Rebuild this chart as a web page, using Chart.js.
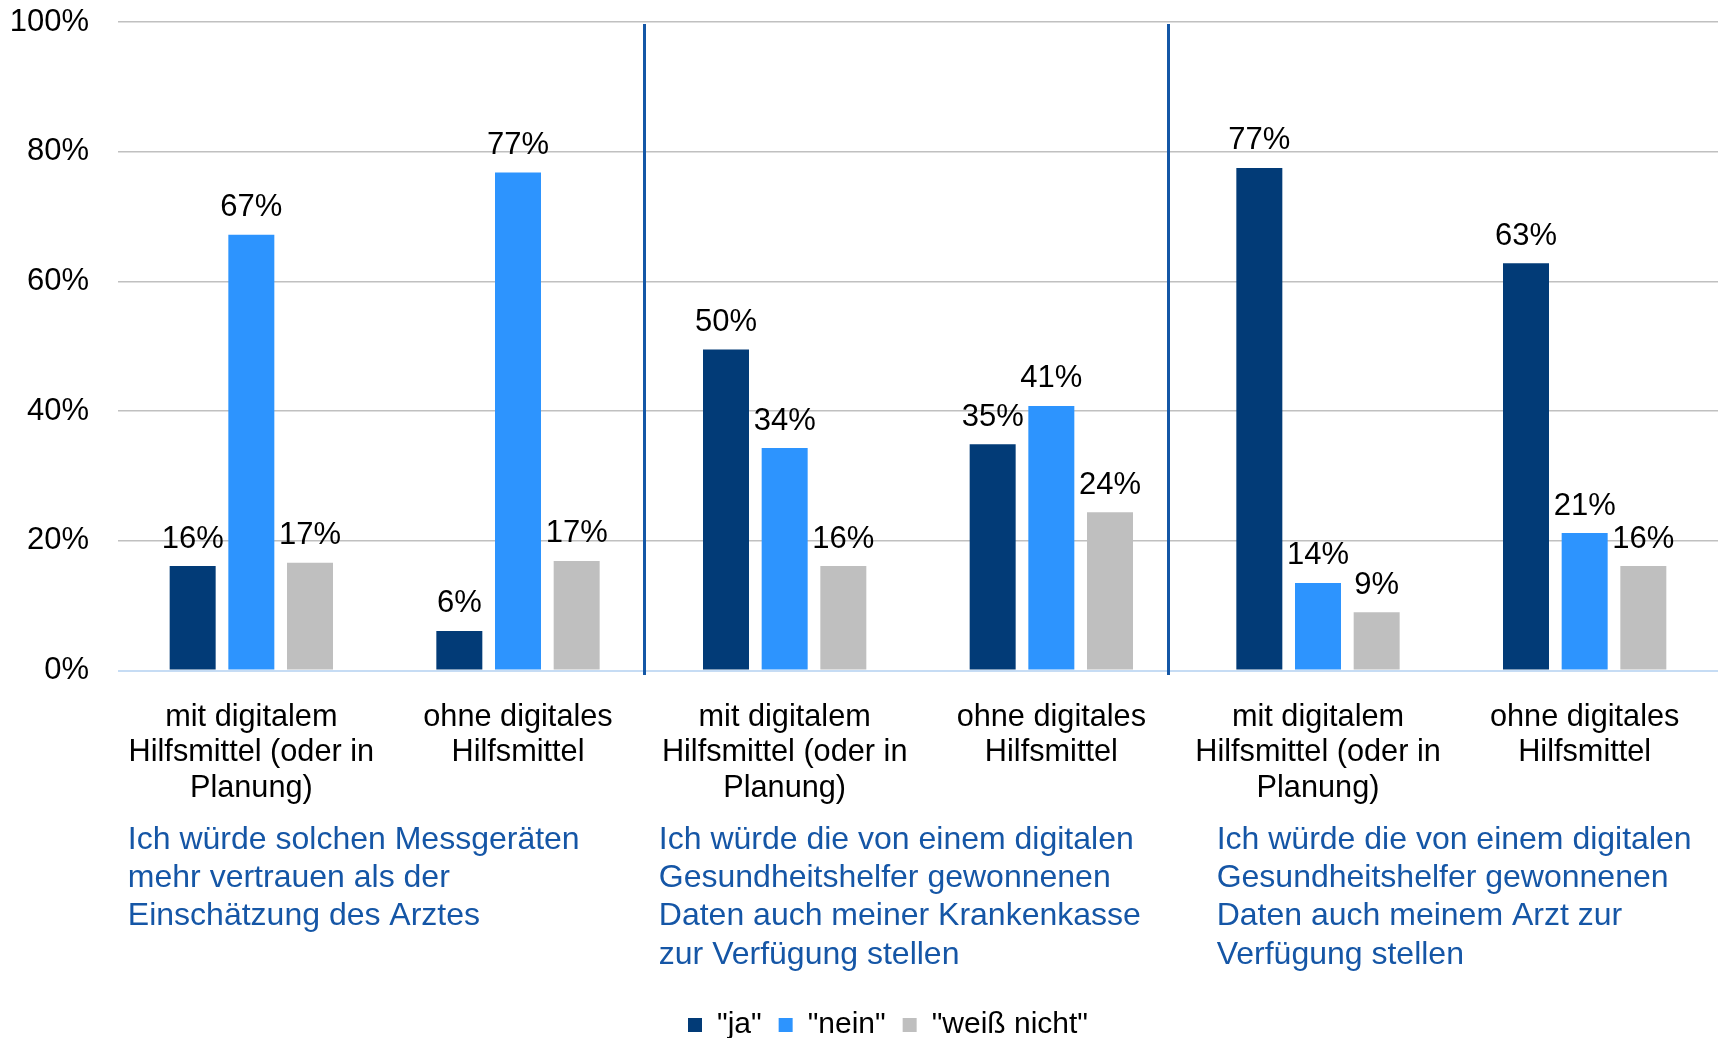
<!DOCTYPE html>
<html>
<head>
<meta charset="utf-8">
<script src="https://cdn.jsdelivr.net/npm/chart.js@4/dist/chart.umd.min.js"></script>
<style>
html,body{margin:0;padding:0;background:#fff;overflow:hidden;}
#c{display:block;}
</style>
</head>
<body>
<canvas id="c" width="1721" height="1050"></canvas>
<script>
// ---- data ----
const categories = [
  ["mit digitalem", "Hilfsmittel (oder in", "Planung)"],
  ["ohne digitales", "Hilfsmittel"],
  ["mit digitalem", "Hilfsmittel (oder in", "Planung)"],
  ["ohne digitales", "Hilfsmittel"],
  ["mit digitalem", "Hilfsmittel (oder in", "Planung)"],
  ["ohne digitales", "Hilfsmittel"]
];
const seriesNames = ['"ja"', '"nein"', '"weiß nicht"'];
const jaValues    = [16.1, 6.1, 49.5, 34.9, 77.5, 62.8];
const neinValues  = [67.2, 76.8, 34.3, 40.8, 13.5, 21.2];
const weissValues = [16.6, 16.9, 16.1, 24.4, 9.0, 16.1];
const jaLabels    = [16, 6, 50, 35, 77, 63];
const neinLabels  = [67, 77, 34, 41, 14, 21];
const weissLabels = [17, 17, 16, 24, 9, 16];
const yTicks = [0, 20, 40, 60, 80, 100];
const groupTitles = [
  ["Ich würde solchen Messgeräten", "mehr vertrauen als der", "Einschätzung des Arztes"],
  ["Ich würde die von einem digitalen", "Gesundheitshelfer gewonnenen", "Daten auch meiner Krankenkasse", "zur Verfügung stellen"],
  ["Ich würde die von einem digitalen", "Gesundheitshelfer gewonnenen", "Daten auch meinem Arzt zur", "Verfügung stellen"]
];

// ---- styling / layout ----
const FONT = '"Liberation Sans", Arial, sans-serif';
const colors = ['#023B77', '#2D94FE', '#BFBFBF'];
const titleColor = '#1556A6';
const separatorAt = [1.473, 3.436];      // positions on the category axis
const titleAnchorAt = [-0.463, 1.528, 3.62];

const valueLabelsPlugin = {
  id: 'valueLabels',
  afterDatasetsDraw(chart) {
    const ctx = chart.ctx;
    const lbls = [jaLabels, neinLabels, weissLabels];
    ctx.save();
    ctx.font = '31px ' + FONT;
    ctx.fillStyle = '#000';
    ctx.textAlign = 'center';
    ctx.textBaseline = 'middle';
    chart.data.datasets.forEach((ds, di) => {
      const meta = chart.getDatasetMeta(di);
      meta.data.forEach((el, i) => {
        ctx.fillText(lbls[di][i] + '%', el.x, el.y - 27);
      });
    });
    ctx.restore();
  }
};

const decorPlugin = {
  id: 'decor',
  afterLayout(chart) {
    // centre the legend under the plotting region like the reference
    if (chart.legend) chart.legend.left += 58;
  },
  afterDraw(chart) {
    const ctx = chart.ctx;
    const x = chart.scales.x;
    const area = chart.chartArea;
    ctx.save();
    // separators
    ctx.strokeStyle = '#1457A6';
    ctx.lineWidth = 3;
    separatorAt.forEach(v => {
      const px = Math.round(x.getPixelForValue(v)) + 0.5;
      ctx.beginPath();
      ctx.moveTo(px, area.top + 2);
      ctx.lineTo(px, area.bottom + 4.5);
      ctx.stroke();
    });
    // group titles
    ctx.font = '32px ' + FONT;
    ctx.fillStyle = titleColor;
    ctx.textAlign = 'left';
    ctx.textBaseline = 'middle';
    groupTitles.forEach((lines, gi) => {
      const left = x.getPixelForValue(titleAnchorAt[gi]);
      lines.forEach((line, li) => {
        ctx.fillText(line, left, area.bottom + 169.2 + li * 38.4);
      });
    });
    ctx.restore();
  }
};

new Chart(document.getElementById('c'), {
  type: 'bar',
  data: {
    labels: categories,
    datasets: [
      { label: seriesNames[0], data: jaValues, backgroundColor: colors[0] },
      { label: seriesNames[1], data: neinValues, backgroundColor: colors[1] },
      { label: seriesNames[2], data: weissValues, backgroundColor: colors[2] }
    ]
  },
  options: {
    responsive: false,
    animation: false,
    events: [],
    layout: { padding: { left: 0, right: 3, top: 22, bottom: 0 } },
    datasets: { bar: { categoryPercentage: 0.66, barPercentage: 0.784 } },
    scales: {
      x: {
        grid: { display: false },
        border: { display: false },
        ticks: {
          color: '#000',
          font: { family: FONT, size: 30.7, lineHeight: 1.15 },
          padding: 21.5,
          maxRotation: 0,
          minRotation: 0,
          autoSkip: false
        },
        afterFit(scale) { scale.height = 322.5; }
      },
      y: {
        min: 0,
        max: 100,
        afterBuildTicks(scale) { scale.ticks = yTicks.map(v => ({ value: v })); },
        grid: {
          color: (c) => (c.tick && c.tick.value === 0) ? '#C6DCF4' : '#C0C0C0',
          lineWidth: (c) => (c.tick && c.tick.value === 0) ? 2 : 1.5,
          drawTicks: false
        },
        border: { display: false },
        ticks: {
          color: '#000',
          font: { family: FONT, size: 31 },
          padding: 29,
          callback: (v) => v + '%'
        },
        afterFit(scale) {
          scale.width = 118;
          scale.paddingTop = 0;
          scale.paddingBottom = 0;
        }
      }
    },
    plugins: {
      legend: {
        position: 'bottom',
        labels: {
          boxWidth: 14,
          boxHeight: 14,
          padding: 17,
          color: '#000',
          font: { family: FONT, size: 30 }
        }
      },
      tooltip: { enabled: false },
      title: { display: false }
    }
  },
  plugins: [valueLabelsPlugin, decorPlugin]
});
</script>
</body>
</html>
